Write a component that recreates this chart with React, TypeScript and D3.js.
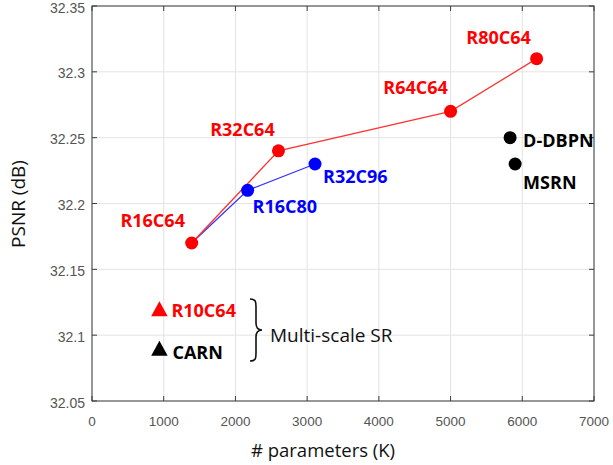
import React from "react";
import * as d3 from "d3";

// ---- data ----
const redNames = ["R16C64", "R32C64", "R64C64", "R80C64"];
const redParams = [1390, 2600, 5000, 6200];
const redPsnr = [32.17, 32.24, 32.27, 32.31];

const blueNames = ["R16C64", "R16C80", "R32C96"];
const blueParams = [1390, 2170, 3110];
const bluePsnr = [32.17, 32.21, 32.23];

const otherNames = ["D-DBPN", "MSRN"];
const otherParams = [5830, 5900];
const otherPsnr = [32.25, 32.23];

const multiNames = ["R10C64", "CARN"];
const multiParams = [940, 940];
const multiPsnr = [32.12, 32.09];

const xTicks = [0, 1000, 2000, 3000, 4000, 5000, 6000, 7000];
const yTicks = [32.05, 32.1, 32.15, 32.2, 32.25, 32.3, 32.35];
const yTickLabels = ["32.05", "32.1", "32.15", "32.2", "32.25", "32.3", "32.35"];

const xLabel = "# parameters (K)";
const yLabel = "PSNR (dB)";
const braceLabel = "Multi-scale SR";

// label offsets (styling)
const labelOffsets: Record<string, [number, number, string]> = {
  R16C64: [-39, -16, "middle"],
  R32C64: [-36, -15, "middle"],
  R64C64: [-35, -17, "middle"],
  R80C64: [-38, -15, "middle"],
  R16C80: [5, 23, "start"],
  R32C96: [8, 19, "start"],
  "D-DBPN": [13, 9, "start"],
  MSRN: [8, 25, "start"],
  R10C64: [12, 8, "start"],
  CARN: [13, 11, "start"],
};

const W = 613;
const H = 465;
const L = 92, R = 594, T = 6, B = 401;

export default function App() {
  const x = d3.scaleLinear().domain([0, 7000]).range([L, R]);
  const y = d3.scaleLinear().domain([32.05, 32.35]).range([B, T]);
  const line = d3
    .line<[number, number]>()
    .x((d) => x(d[0]))
    .y((d) => y(d[1]));

  const redPts = redParams.map((p, i) => [p, redPsnr[i]] as [number, number]);
  const bluePts = blueParams.map((p, i) => [p, bluePsnr[i]] as [number, number]);

  const labelFont = "'Open Sans', sans-serif";
  const tickFont = "'Liberation Sans', Arial, sans-serif";
  const tickColor = "#555";
  const axisColor = "#3c3c3c";
  const gridColor = "#e3e3e3";
  const tickLen = 5;

  const label = (name: string, px: number, py: number, color: string) => {
    const [dx, dy, anchor] = labelOffsets[name];
    return (
      <text
        key={"l" + name + color}
        x={x(px) + dx}
        y={y(py) + dy}
        textAnchor={anchor as any}
        fontFamily={labelFont}
        fontWeight={700}
        fontSize={18}
        fill={color}
      >
        {name}
      </text>
    );
  };

  const tri = (px: number, py: number, color: string, key: string) => {
    const cx = x(px);
    const cy = y(py);
    const w = 16.5, h = 15;
    const path = `M${cx - w / 2},${cy + h / 2} L${cx + w / 2},${cy + h / 2} L${cx},${cy - h / 2} Z`;
    return <path key={key} d={path} fill={color} />;
  };

  // brace geometry
  const bx = 250, bTop = 299, bBot = 361, bMid = 330, bw = 6;
  const bracePath = `M${bx},${bTop} C${bx + bw},${bTop} ${bx + bw},${bTop + 3} ${bx + bw},${bTop + 8} L${bx + bw},${bMid - 7} C${bx + bw},${bMid - 2} ${bx + bw + 2},${bMid} ${bx + bw * 2},${bMid} C${bx + bw + 2},${bMid} ${bx + bw},${bMid + 2} ${bx + bw},${bMid + 7} L${bx + bw},${bBot - 8} C${bx + bw},${bBot - 3} ${bx + bw},${bBot} ${bx},${bBot}`;

  return (
    <svg
      width={W}
      height={H}
      style={{ position: "absolute", left: 0, top: 0, background: "#fff" }}
    >
      <rect x={0} y={0} width={W} height={H} fill="#fff" />
      {/* grid */}
      {xTicks.map((t) => (
        <line key={"gx" + t} x1={x(t)} x2={x(t)} y1={T} y2={B} stroke={gridColor} strokeWidth={1} />
      ))}
      {yTicks.map((t) => (
        <line key={"gy" + t} x1={L} x2={R} y1={y(t)} y2={y(t)} stroke={gridColor} strokeWidth={1} />
      ))}
      {/* ticks */}
      {xTicks.map((t) => (
        <g key={"tx" + t}>
          <line x1={x(t)} x2={x(t)} y1={B} y2={B - tickLen} stroke={axisColor} />
          <line x1={x(t)} x2={x(t)} y1={T} y2={T + tickLen} stroke={axisColor} />
          <text
            x={x(t)}
            y={B + 24.5}
            textAnchor="middle"
            fontFamily={tickFont}
            fontSize={13.5}
            fill={tickColor}
          >
            {t}
          </text>
        </g>
      ))}
      {yTicks.map((t, i) => (
        <g key={"ty" + t}>
          <line x1={L} x2={L + tickLen} y1={y(t)} y2={y(t)} stroke={axisColor} />
          <line x1={R} x2={R - tickLen} y1={y(t)} y2={y(t)} stroke={axisColor} />
          <text
            x={L - 7}
            y={y(t) + 6.5}
            textAnchor="end"
            fontFamily={tickFont}
            fontSize={14}
            fill={tickColor}
          >
            {yTickLabels[i]}
          </text>
        </g>
      ))}
      {/* box */}
      <rect x={L} y={T} width={R - L} height={B - T} fill="none" stroke={axisColor} strokeWidth={1} />

      {/* axis labels */}
      <text
        x={323}
        y={457}
        textAnchor="middle"
        fontFamily={labelFont}
        fontSize={18.5}
        fill="#111"
      >
        {xLabel}
      </text>
      <text
        transform={`translate(25,204) rotate(-90)`}
        textAnchor="middle"
        fontFamily={labelFont}
        fontSize={19}
        fill="#111"
      >
        {yLabel}
      </text>

      {/* lines */}
      <path d={line(bluePts) || ""} fill="none" stroke="#3333ff" strokeWidth={1.3} />
      <path d={line(redPts) || ""} fill="none" stroke="#ff3333" strokeWidth={1.3} />

      {/* markers */}
      {bluePts.slice(1).map((p, i) => (
        <circle key={"bc" + i} cx={x(p[0])} cy={y(p[1])} r={6.5} fill="#0000ff" />
      ))}
      {redPts.map((p, i) => (
        <circle key={"rc" + i} cx={x(p[0])} cy={y(p[1])} r={6.5} fill="#ff0000" />
      ))}
      {otherParams.map((p, i) => (
        <circle key={"oc" + i} cx={x(p)} cy={y(otherPsnr[i])} r={6.5} fill="#000" />
      ))}
      {tri(multiParams[0], multiPsnr[0], "#ff0000", "t0")}
      {tri(multiParams[1], multiPsnr[1], "#000", "t1")}

      {/* labels */}
      {redNames.map((n, i) => label(n, redParams[i], redPsnr[i], "#ff0000"))}
      {blueNames.slice(1).map((n, i) => label(n, blueParams[i + 1], bluePsnr[i + 1], "#0000ff"))}
      {otherNames.map((n, i) => label(n, otherParams[i], otherPsnr[i], "#000"))}
      {label(multiNames[0], multiParams[0], multiPsnr[0], "#ff0000")}
      {label(multiNames[1], multiParams[1], multiPsnr[1], "#000")}

      {/* brace */}
      <path d={bracePath} fill="none" stroke="#111" strokeWidth={1.6} />
      <text x={270} y={342} fontFamily={labelFont} fontSize={19} fill="#111">
        {braceLabel}
      </text>
    </svg>
  );
}
